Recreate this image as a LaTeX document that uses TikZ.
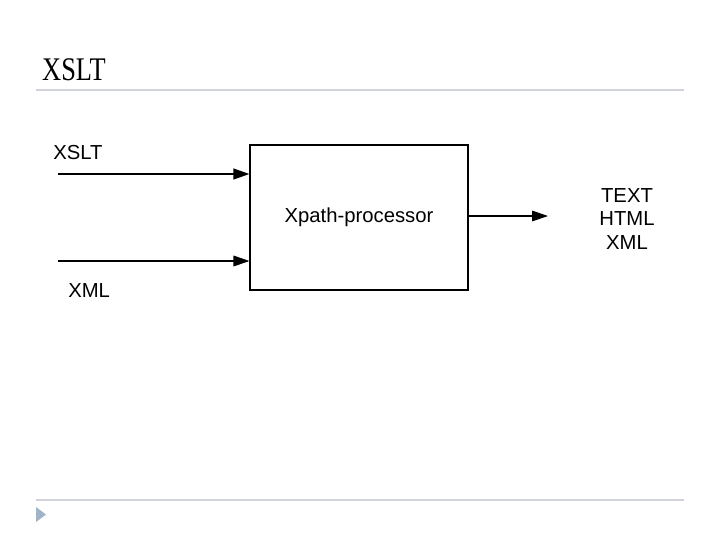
\documentclass[tikz,border=0pt]{standalone}
\usepackage{fontspec}
\setmainfont{Liberation Serif}
\setsansfont{Liberation Sans}
\usetikzlibrary{arrows.meta}
\definecolor{rulegray}{RGB}{208,212,216}
\definecolor{bulletblue}{RGB}{160,180,200}
\begin{document}
\begin{tikzpicture}[x=0.75pt,y=-0.75pt,
  lbl/.style={font=\sffamily\fontsize{15.2pt}{17.6pt}\selectfont, inner sep=0pt},
  conn/.style={-{Triangle[length=12pt,width=8pt]}, line width=0.8pt},
  box/.style={draw, line width=0.8pt, minimum width=163.5pt, minimum height=108.75pt, inner sep=0pt}]
\useasboundingbox[fill=white] (0,0) rectangle (720,540);
% title and rules
\node[anchor=base west, inner sep=0pt, xscale=0.8, font=\rmfamily\fontsize{24.75pt}{28pt}\selectfont] (title) at (42,80) {XSLT};
\draw[rulegray, line width=1.5pt] (36,90) -- (684,90);
\draw[rulegray, line width=1.5pt] (36,500) -- (684,500);
\fill[bulletblue] (36,507) -- (46,514.5) -- (36,522) -- cycle;
% box
\node[box, lbl] (proc) at (359,217.5) {Xpath-processor};
% inputs
\coordinate (xsltin) at (58,174);
\coordinate (xmlin) at (58,261);
\draw[conn, line width=1.5pt] (xsltin) -- (xsltin -| proc.west);
\draw[conn] (xmlin) -- (xmlin -| proc.west);
\node[lbl, anchor=west] (xsltlbl) at (53,153) {XSLT};
\node[lbl, anchor=west] (xmllbl) at (68,291) {XML};
% output
\coordinate (outend) at (548,216);
\draw[conn] (proc.east |- outend) -- (outend);
\node[lbl, align=center] (outlbl) at (627,219) {TEXT\\HTML\\XML};
\end{tikzpicture}
\end{document}
